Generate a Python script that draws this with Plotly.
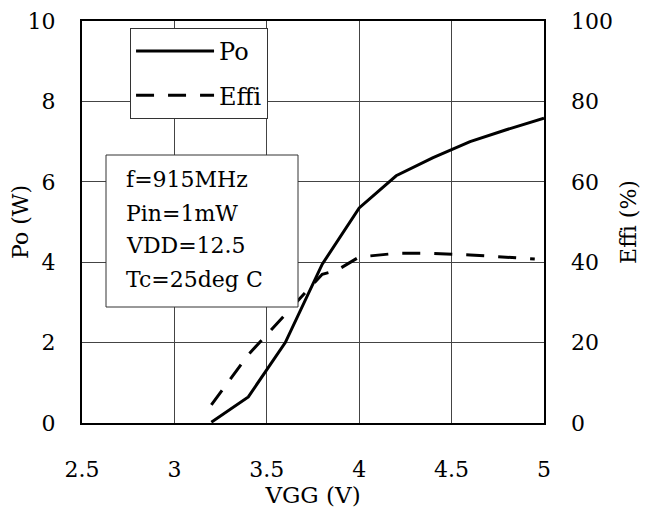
import plotly.graph_objects as go

# Data
vgg_po = [3.2, 3.4, 3.6, 3.8, 4.0, 4.2, 4.4, 4.6, 4.8, 5.0]
po_w = [0.02, 0.65, 2.0, 3.95, 5.35, 6.15, 6.6, 7.0, 7.3, 7.58]

vgg_eff = [3.2, 3.4, 3.6, 3.8, 3.88, 3.96, 4.0, 4.2, 4.4, 4.6, 4.8, 4.95]
effi_pct = [4.5, 17.0, 27.0, 37.0, 38.0, 40.3, 41.3, 42.2, 42.2, 41.8, 41.2, 40.8]

x_ticks = [2.5, 3, 3.5, 4, 4.5, 5]
y_ticks = [0, 2, 4, 6, 8, 10]
y2_ticks = [0, 20, 40, 60, 80, 100]

info_lines = ["f=915MHz", "Pin=1mW", "VDD=12.5", "Tc=25deg C"]

FONT = "DejaVu Serif"
PLOT_H = 402.0  # plot area height in px

fig = go.Figure()
fig.add_trace(go.Scatter(x=vgg_po, y=po_w, name="Po", mode="lines", legendgroup="a",
                         line=dict(color="black", width=3), yaxis="y"))
fig.add_trace(go.Scatter(x=vgg_eff, y=effi_pct, name="Effi", mode="lines", legendgroup="b",
                         line=dict(color="black", width=3, dash="18px,14px"), yaxis="y2"))

fig.update_layout(
    width=650, height=524,
    margin=dict(l=74, r=114, t=13, b=109, autoexpand=False),
    paper_bgcolor="white", plot_bgcolor="white",
    font=dict(family=FONT, size=22, color="black"),
    showlegend=True,
    legend=dict(x=0.104, y=0.983, xanchor="left", yanchor="top",
                bgcolor="white", bordercolor="#333", borderwidth=1,
                font=dict(size=24, family=FONT), tracegroupgap=10, itemwidth=78),
    xaxis=dict(range=[2.5, 5], tickvals=x_ticks, ticktext=[str(v) for v in x_ticks],
               showgrid=True, gridcolor="#444", gridwidth=1, automargin=False,
               showline=True, linecolor="black", linewidth=2, mirror=True,
               ticks="", ticklabelstandoff=26, zeroline=False,
               title=dict(text="VGG (V)", standoff=0, font=dict(size=23))),
    yaxis=dict(range=[0, 10], tickvals=y_ticks, automargin=False,
               showgrid=True, gridcolor="#444", gridwidth=1,
               showline=True, linecolor="black", linewidth=2, mirror=True,
               ticks="", ticklabelstandoff=20, zeroline=False,
               title=dict(text="Po (W)", standoff=4, font=dict(size=22))),
    yaxis2=dict(range=[0, 100], tickvals=y2_ticks, overlaying="y", side="right",
                showgrid=False, showline=False, ticks="", ticklabelstandoff=26,
                zeroline=False, automargin=False,
                title=dict(text="Effi (%)", standoff=8, font=dict(size=22))),
)

# condition box (outline) and its text lines
fig.add_shape(type="rect", xref="paper", yref="paper",
              x0=24 / 462, x1=216 / 462, y0=1 - 286 / PLOT_H, y1=1 - 134 / PLOT_H,
              line=dict(color="#333", width=1), fillcolor="white", layer="above")
for i, line in enumerate(info_lines):
    fig.add_annotation(xref="paper", yref="paper", x=42 / 462,
                       y=1 - (159 + 33 * i) / PLOT_H, xanchor="left", yanchor="middle",
                       text=line, showarrow=False, font=dict(size=22, family=FONT))

fig.write_html("out.html")
